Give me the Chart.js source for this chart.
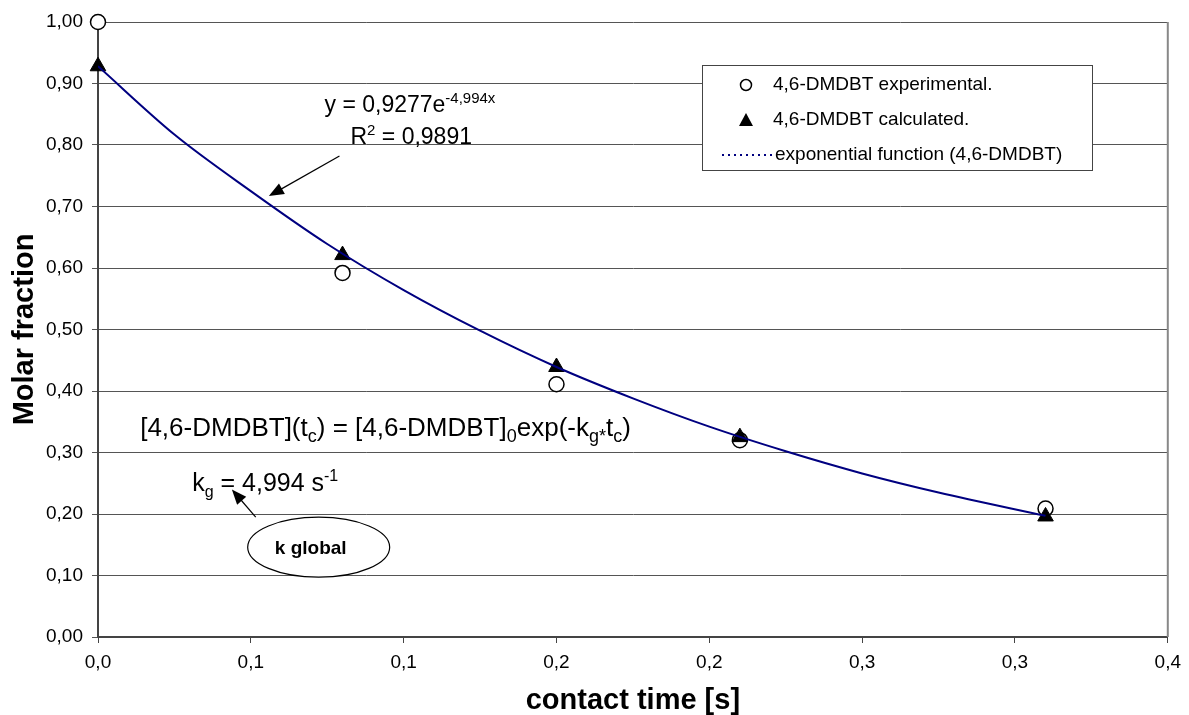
<!DOCTYPE html>
<html>
<head>
<meta charset="utf-8">
<script src="https://cdn.jsdelivr.net/npm/chart.js@4/dist/chart.umd.min.js"></script>
<style>
  body { margin: 0; background: #fff; }
  #wrap { width: 1189px; height: 715px; }
</style>
</head>
<body>
<div id="wrap"><canvas id="kinetics-chart" width="1189" height="715"></canvas></div>
<script>
// values
const contactTime = [0, 0.08, 0.15, 0.21, 0.31];
const experimental = [1.00, 0.592, 0.411, 0.320, 0.209];
const calculated = [0.928, 0.621, 0.439, 0.325, 0.196];

// the trend line
const fitTime = [0, 0.025, 0.05, 0.075, 0.10, 0.125, 0.15, 0.175, 0.20, 0.225, 0.25, 0.275, 0.31];
const fitValues = [0.928, 0.817, 0.725, 0.639, 0.564, 0.498, 0.439, 0.388, 0.342, 0.302, 0.266, 0.235, 0.197];

const xTickLabels = ['0,0', '0,1', '0,1', '0,2', '0,2', '0,3', '0,3', '0,4'];
const yTickLabels = ['0,00', '0,10', '0,20', '0,30', '0,40', '0,50', '0,60', '0,70', '0,80', '0,90', '1,00'];

const legendLabels = ['4,6-DMDBT experimental.', '4,6-DMDBT calculated.', 'exponential function (4,6-DMDBT)'];

const FONT = '"Liberation Sans", Arial, sans-serif';
const NAVY = '#000080';

function toPoints(xs, ys) {
  return xs.map((v, i) => ({x: v, y: ys[i]}));
}

// text with sub/superscripts, parts = [[text, mode], ...]
function richText(ctx, px, py, parts, size, small) {
  let cx = px;
  parts.forEach(p => {
    const mode = p[1];
    const s = mode ? Math.round(size * (small || 0.65)) : size;
    ctx.font = s + 'px ' + FONT;
    let dy = 0;
    if (mode === 'sub') dy = size * 0.22;
    if (mode === 'sup') dy = -size * 0.42;
    ctx.fillText(p[0], cx, py + dy);
    cx += ctx.measureText(p[0]).width;
  });
}

function arrow(ctx, x1, y1, x2, y2) {
  const ang = Math.atan2(y2 - y1, x2 - x1);
  const len = 15, half = 6;
  ctx.beginPath();
  ctx.moveTo(x1, y1);
  ctx.lineTo(x2 - Math.cos(ang) * len * 0.8, y2 - Math.sin(ang) * len * 0.8);
  ctx.stroke();
  ctx.beginPath();
  ctx.moveTo(x2, y2);
  ctx.lineTo(x2 - Math.cos(ang) * len + Math.sin(ang) * half, y2 - Math.sin(ang) * len - Math.cos(ang) * half);
  ctx.lineTo(x2 - Math.cos(ang) * len - Math.sin(ang) * half, y2 - Math.sin(ang) * len + Math.cos(ang) * half);
  ctx.closePath();
  ctx.fill();
}

const overlay = {
  id: 'overlay',
  afterDatasetsDraw(chart) {
    const ctx = chart.ctx;
    const a = chart.chartArea;
    const xs = chart.scales.x, ys = chart.scales.y;
    const px = v => xs.getPixelForValue(v);
    const py = v => ys.getPixelForValue(v);
    ctx.save();

    // right frame of the plot
    ctx.strokeStyle = '#888';
    ctx.lineWidth = 2;
    ctx.beginPath();
    ctx.moveTo(a.right, a.top);
    ctx.lineTo(a.right, a.bottom);
    ctx.stroke();

    ctx.fillStyle = '#000';
    ctx.strokeStyle = '#000';
    ctx.lineWidth = 1.2;
    ctx.textBaseline = 'alphabetic';
    ctx.textAlign = 'left';

    // fit equation
    richText(ctx, px(0.0741), py(0.853), [['y = 0,9277e'], ['-4,994x', 'sup']], 23);
    richText(ctx, px(0.0826), py(0.801), [['R'], ['2', 'sup'], [' = 0,9891']], 23);
    arrow(ctx, px(0.0790), py(0.782), px(0.0559), py(0.717));

    // rate law
    richText(ctx, px(0.0138), py(0.3265), [
      ['[4,6-DMDBT](t'], ['c', 'sub'], [') = [4,6-DMDBT]'], ['0', 'sub'],
      ['exp(-k'], ['g*', 'sub'], ['t'], ['c', 'sub'], [')']
    ], 26, 0.68);
    richText(ctx, px(0.0308), py(0.237), [['k'], ['g', 'sub'], [' = 4,994 s'], ['-1', 'sup']], 25);
    arrow(ctx, px(0.0516), py(0.195), px(0.0438), py(0.240));

    // k global bubble
    const ex = px(0.0722), ey = py(0.146);
    ctx.beginPath();
    ctx.ellipse(ex, ey, 71, 30, 0, 0, Math.PI * 2);
    ctx.fillStyle = '#fff';
    ctx.fill();
    ctx.stroke();
    ctx.fillStyle = '#000';
    ctx.font = 'bold 19px ' + FONT;
    ctx.textAlign = 'center';
    ctx.textBaseline = 'middle';
    ctx.fillText('k global', ex - 8, ey + 2);

    // legend box
    const lx = 702, ly = 65, lw = 390, lh = 105;
    ctx.fillStyle = '#fff';
    ctx.fillRect(lx, ly, lw, lh);
    ctx.strokeStyle = '#444';
    ctx.lineWidth = 1;
    ctx.strokeRect(lx + 0.5, ly + 0.5, lw, lh);

    ctx.textAlign = 'left';
    ctx.textBaseline = 'middle';
    ctx.font = '19px ' + FONT;
    ctx.fillStyle = '#000';
    const rows = [85, 120, 155];
    // circle
    ctx.lineWidth = 1.5;
    ctx.strokeStyle = '#000';
    ctx.beginPath();
    ctx.arc(746, rows[0], 5.5, 0, Math.PI * 2);
    ctx.stroke();
    // triangle
    ctx.beginPath();
    ctx.moveTo(746, rows[1] - 7);
    ctx.lineTo(753, rows[1] + 6);
    ctx.lineTo(739, rows[1] + 6);
    ctx.closePath();
    ctx.fill();
    // dotted line
    ctx.strokeStyle = NAVY;
    ctx.lineWidth = 2;
    ctx.setLineDash([2, 4]);
    ctx.beginPath();
    ctx.moveTo(722, rows[2]);
    ctx.lineTo(772, rows[2]);
    ctx.stroke();
    ctx.setLineDash([]);

    ctx.fillText(legendLabels[0], 773, rows[0]);
    ctx.fillText(legendLabels[1], 773, rows[1]);
    ctx.fillText(legendLabels[2], 775, rows[2]);

    ctx.restore();
  }
};

const chartElement = document.getElementById('kinetics-chart').getContext('2d');
new Chart(chartElement, {
  type: 'line',
  data: {
    datasets: [
      {
        label: legendLabels[2],
        data: toPoints(fitTime, fitValues),
        borderColor: NAVY,
        borderWidth: 2,
        pointRadius: 0,
        cubicInterpolationMode: 'monotone',
        fill: false,
        order: 0
      },
      {
        label: legendLabels[1],
        data: toPoints(contactTime, calculated),
        showLine: false,
        pointStyle: 'triangle',
        pointRadius: 9,
        backgroundColor: '#000',
        borderColor: '#000',
        borderWidth: 1,
        clip: false,
        order: 1
      },
      {
        label: legendLabels[0],
        data: toPoints(contactTime, experimental),
        showLine: false,
        pointStyle: 'circle',
        pointRadius: 7.5,
        backgroundColor: '#fff',
        borderColor: '#000',
        borderWidth: 1.5,
        clip: false,
        order: 2
      }
    ]
  },
  options: {
    responsive: false,
    animation: false,
    layout: { padding: { top: 22, right: 17, left: 0, bottom: 0 } },
    plugins: { legend: { display: false }, tooltip: { enabled: false } },
    scales: {
      x: {
        type: 'linear',
        min: 0,
        max: 0.35,
        afterFit: s => { s.height = 78; },
        ticks: {
          stepSize: 0.05,
          padding: 8,
          color: '#000',
          font: { family: FONT, size: 19 },
          maxRotation: 0,
          callback: (v, i) => xTickLabels[i]
        },
        grid: { drawOnChartArea: false, tickLength: 6, color: '#444' },
        border: { color: '#444', width: 2 },
        title: {
          display: true,
          text: 'contact time [s]',
          color: '#000',
          font: { family: FONT, size: 29, weight: 'bold', lineHeight: 1 },
          padding: { top: 0, bottom: 0 }
        }
      },
      y: {
        min: 0,
        max: 1,
        afterFit: s => { s.width = 98; },
        ticks: {
          stepSize: 0.1,
          padding: 9,
          color: '#000',
          font: { family: FONT, size: 19 },
          callback: (v, i) => yTickLabels[i]
        },
        grid: { color: '#555', lineWidth: 1, tickLength: 6 },
        border: { color: '#444', width: 2 },
        title: {
          display: true,
          text: 'Molar fraction',
          color: '#000',
          font: { family: FONT, size: 29, weight: 'bold', lineHeight: 1 },
          padding: { top: 10, bottom: 0 }
        }
      }
    }
  },
  plugins: [overlay]
});
</script>
</body>
</html>
